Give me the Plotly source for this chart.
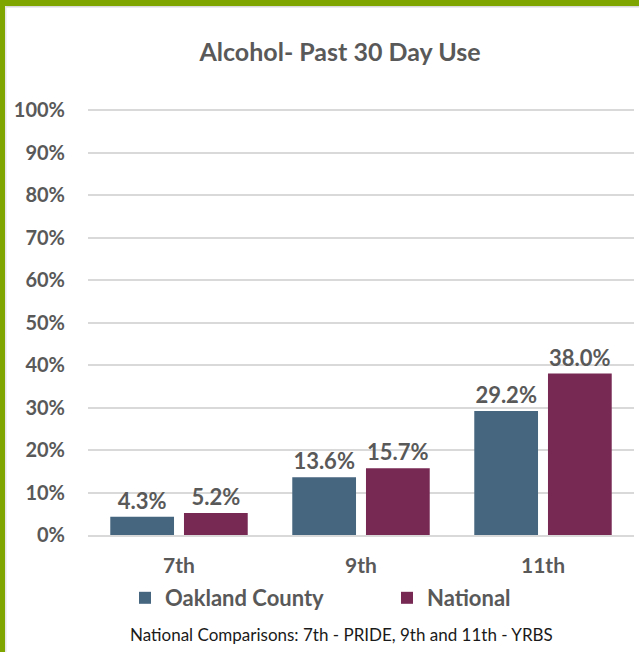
import plotly.graph_objects as go

categories = ["7th", "9th", "11th"]
oakland = [4.3, 13.6, 29.2]
national = [5.2, 15.7, 38.0]
series_names = ["Oakland County", "National"]
y_ticks = [0, 10, 20, 30, 40, 50, 60, 70, 80, 90, 100]
title_text = "Alcohol- Past 30 Day Use"
footer_text = "National Comparisons: 7th - PRIDE, 9th and 11th - YRBS"

W, H = 639, 652
L, R, T, B = 88, 5, 108, 117
pw = W - L - R
ph = H - T - B

FONT = "Lato"
GRAY = "#595959"

fig = go.Figure()
fig.add_trace(go.Bar(
    x=categories, y=oakland, name=series_names[0], legend="legend", showlegend=True,
    marker=dict(color="#46657F", line=dict(color="rgba(0,0,0,0)", width=14)),
    text=[f"{v:.1f}%" for v in oakland], textposition="outside",
    textfont=dict(family=FONT, size=22, color=GRAY, weight="bold"),
    cliponaxis=False,
))
fig.add_trace(go.Bar(
    x=categories, y=national, name=series_names[1], legend="legend2", showlegend=True,
    marker=dict(color="#772953", line=dict(color="rgba(0,0,0,0)", width=14)),
    text=[f"{v:.1f}%" for v in national], textposition="outside",
    textfont=dict(family=FONT, size=22, color=GRAY, weight="bold"),
    cliponaxis=False,
))

def px_x(p):
    return (p - L) / pw

def px_y(p):
    return (H - B - p) / ph

green = "#7FA600"
shapes = [
    dict(type="rect", xref="paper", yref="paper", x0=px_x(0), x1=px_x(5), y0=px_y(H), y1=px_y(0),
         fillcolor=green, line=dict(width=0), layer="above"),
    dict(type="rect", xref="paper", yref="paper", x0=px_x(0), x1=px_x(W), y0=px_y(6), y1=px_y(0),
         fillcolor=green, line=dict(width=0), layer="above"),
    dict(type="rect", xref="paper", yref="paper", x0=px_x(5), x1=px_x(W), y0=px_y(7.5), y1=px_y(6),
         fillcolor="#D9D9D9", line=dict(width=0), layer="above"),
    dict(type="rect", xref="paper", yref="paper", x0=px_x(5), x1=px_x(6.5), y0=px_y(H), y1=px_y(6),
         fillcolor="#E6E6E6", line=dict(width=0), layer="above"),
]

legend_common = dict(orientation="h", xanchor="left", yanchor="middle", y=px_y(598),
                     font=dict(family=FONT, size=22, color=GRAY, weight="bold"),
                     bgcolor="rgba(0,0,0,0)", itemwidth=30, visible=True)

fig.update_layout(
    width=W, height=H,
    margin=dict(l=L, r=R, t=T, b=B),
    paper_bgcolor="white", plot_bgcolor="white",
    showlegend=True,
    barmode="group", bargap=0.19, bargroupgap=0.135,
    title=dict(text=title_text, x=340 / W, xanchor="center", y=1 - 52 / H, yanchor="middle",
               font=dict(family=FONT, size=25, color=GRAY, weight="bold")),
    xaxis=dict(showgrid=False, showline=True, linecolor="#D9D9D9", linewidth=1.5,
               ticks="", ticklabelstandoff=11,
               tickfont=dict(family=FONT, size=21, color=GRAY, weight="bold")),
    yaxis=dict(range=[0, 100.5], tickvals=y_ticks, ticktext=[f"{v}%" for v in y_ticks],
               showgrid=True, gridcolor="#D9D9D9", gridwidth=1.5, zeroline=False,
               showline=False, ticks="", ticklabelstandoff=22,
               tickfont=dict(family=FONT, size=20, color=GRAY, weight="bold")),
    legend=dict(x=px_x(125), **legend_common),
    legend2=dict(x=px_x(387), **legend_common),
    shapes=shapes,
    annotations=[dict(text=footer_text, xref="paper", yref="paper", x=px_x(341), y=px_y(634),
                      xanchor="center", yanchor="middle", showarrow=False,
                      font=dict(family=FONT, size=17, color="#1a1a1a"))],
)

fig.write_html("out.html", config={"displayModeBar": False},
               post_script="document.body.style.margin='0px';document.body.style.padding='0px';")
